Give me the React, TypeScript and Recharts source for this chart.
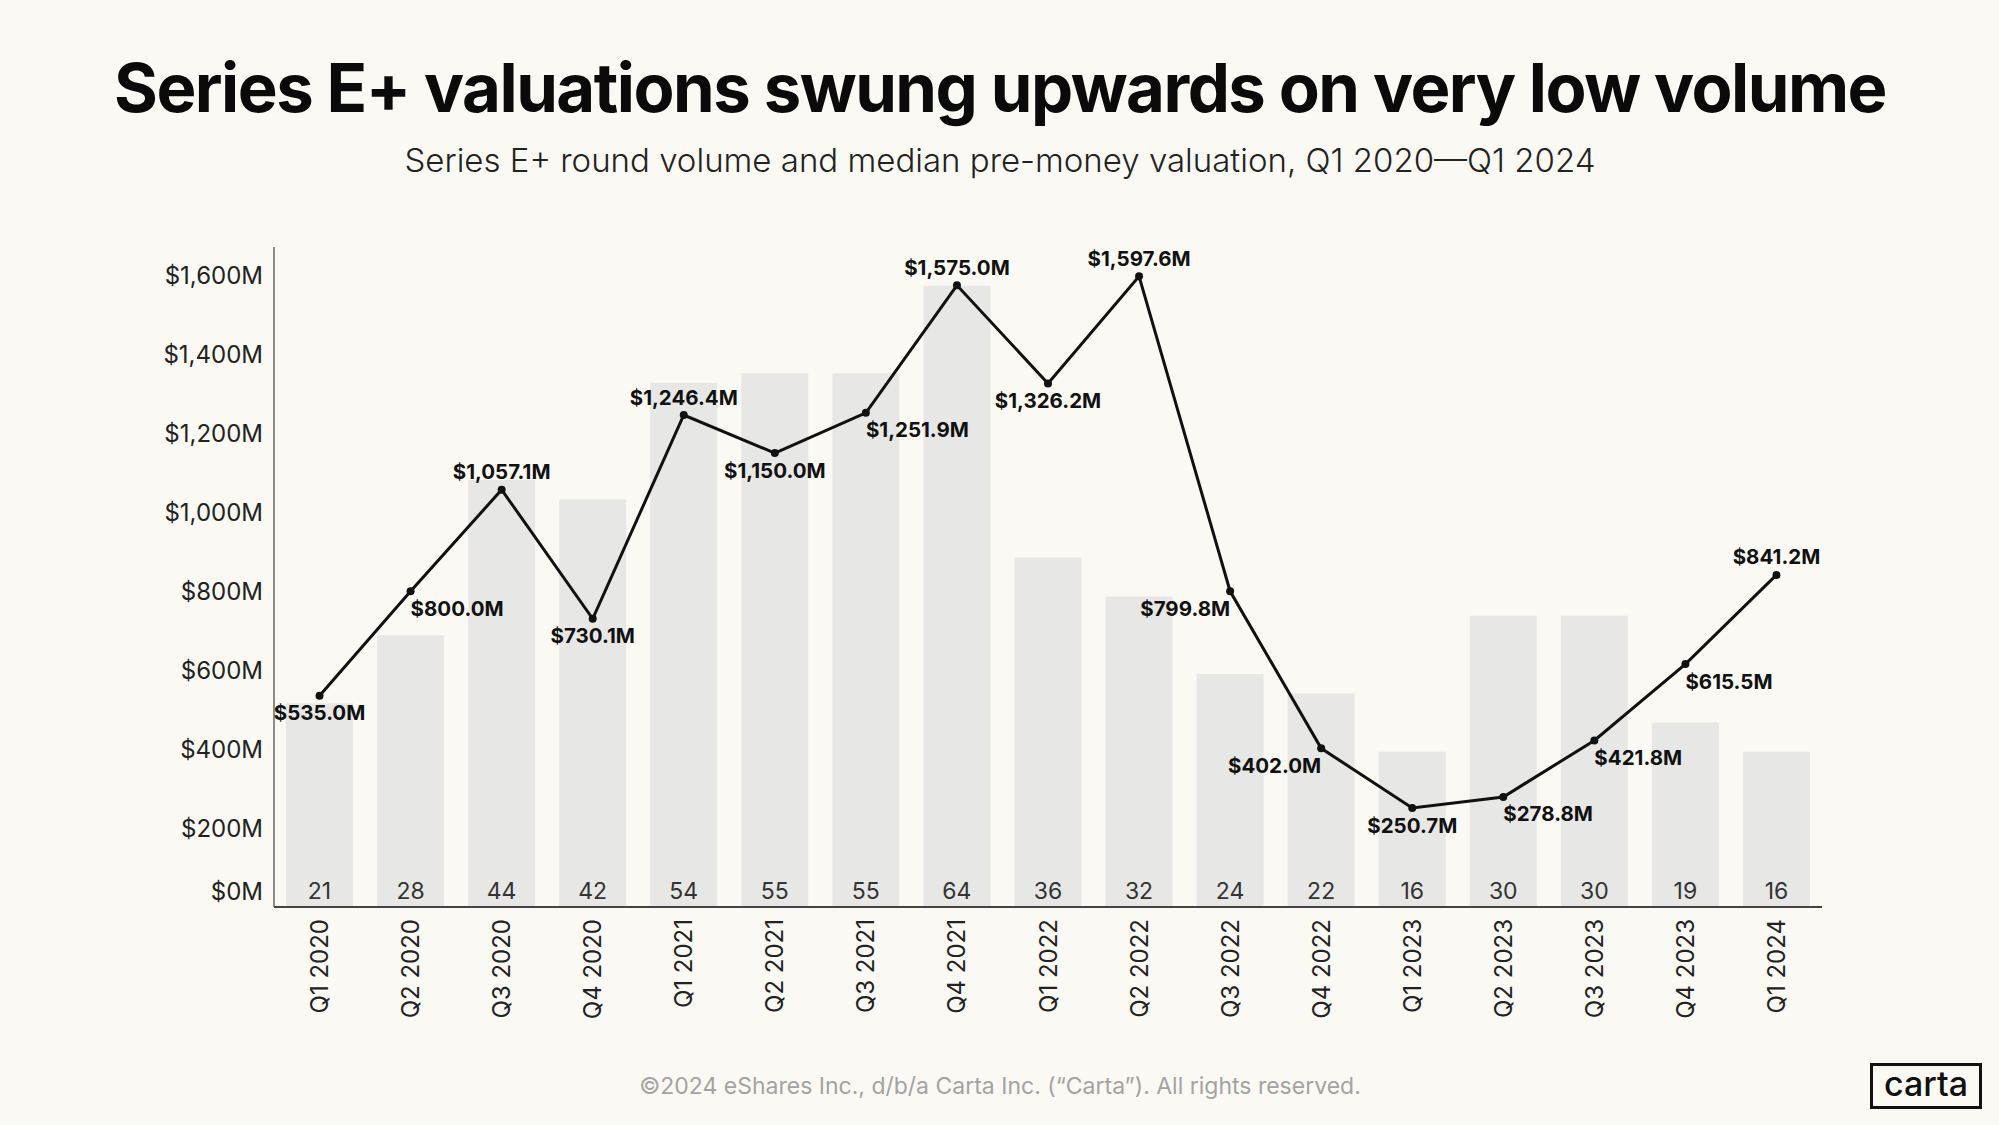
import { ComposedChart, Bar, Line, XAxis, YAxis, LabelList } from "recharts"

const quarters = [
  "Q1 2020", "Q2 2020", "Q3 2020", "Q4 2020",
  "Q1 2021", "Q2 2021", "Q3 2021", "Q4 2021",
  "Q1 2022", "Q2 2022", "Q3 2022", "Q4 2022",
  "Q1 2023", "Q2 2023", "Q3 2023", "Q4 2023",
  "Q1 2024",
]
const roundCounts = [21, 28, 44, 42, 54, 55, 55, 64, 36, 32, 24, 22, 16, 30, 30, 19, 16]
const valuations = [
  535.0, 800.0, 1057.1, 730.1, 1246.4, 1150.0, 1251.9, 1575.0, 1326.2,
  1597.6, 799.8, 402.0, 250.7, 278.8, 421.8, 615.5, 841.2,
]
const valuationTicks = [0, 200, 400, 600, 800, 1000, 1200, 1400, 1600]

const chartData = quarters.map((quarter, i) => ({
  quarter,
  count: roundCounts[i],
  valuation: valuations[i],
}))

const BG = "#fbf9f3"
const FONT = "Inter, 'Noto Sans', sans-serif"

document.body.style.margin = "0"
document.body.style.background = BG

const fmtMoney = (v: number) =>
  `$${v.toLocaleString("en-US", { minimumFractionDigits: 1, maximumFractionDigits: 1 })}M`

function YTick(props: any) {
  const { x, y, payload } = props
  // the $0M label sits up with the round counts, not on the axis line
  const shift = payload.value === 0 ? -16 : 0
  return (
    <text x={x} y={y + shift} textAnchor="end" dominantBaseline="central"
      fontFamily={FONT} fontSize={24} fill="#222">
      {`$${payload.value.toLocaleString("en-US")}M`}
    </text>
  )
}

function XTick(props: any) {
  const { x, y, payload } = props
  const ty = y + 4
  return (
    <text x={x} y={ty} transform={`rotate(-90 ${x} ${ty})`} textAnchor="end"
      dominantBaseline="central" fontFamily={FONT} fontSize={24} fill="#222">
      {payload.value}
    </text>
  )
}

function CountLabel(props: any) {
  const { x, y, width, height, value } = props
  return (
    <text x={x + width / 2} y={y + height - 16} textAnchor="middle"
      dominantBaseline="central" fontFamily={FONT} fontSize={23} fill="#333">
      {value}
    </text>
  )
}

function ValuationLabel(props: any) {
  const { x, y, value, index } = props
  const prev = index > 0 ? valuations[index - 1] : Infinity
  const next = index < valuations.length - 1 ? valuations[index + 1] : -Infinity
  let anchor = "middle"
  let dy = 17
  if (value > prev && value > next) dy = -18
  else if (value < prev && value < next) anchor = "middle"
  else if (value > prev) anchor = "start"
  else anchor = "end"
  return (
    <text x={x} y={y + dy} textAnchor={anchor} dominantBaseline="central"
      fontFamily={FONT} fontSize={20.5} fontWeight={700} fill="#111">
      {fmtMoney(value)}
    </text>
  )
}

export default function App() {
  return (
    <div style={{ position: "relative", width: 1999, height: 1125, background: BG, overflow: "hidden" }}>
      <svg width={1999} height={1125} style={{ position: "absolute", left: 0, top: 0 }}>
        <text x={1000} y={112} textAnchor="middle" fontFamily={FONT} fontSize={67}
          fontWeight={700} letterSpacing={-1.5} fill="#0a0a0a">
          Series E+ valuations swung upwards on very low volume
        </text>
        <text x={1000} y={172} textAnchor="middle" fontFamily={FONT} fontSize={33}
          fontWeight={300} fill="#222">
          Series E+ round volume and median pre-money valuation, Q1 2020—Q1 2024
        </text>
        <text x={1000} y={1094} textAnchor="middle" fontFamily={FONT} fontSize={23}
          fill="#a3a3a3">
          ©2024 eShares Inc., d/b/a Carta Inc. (“Carta”). All rights reserved.
        </text>
        <rect x={1871.5} y={1064.5} width={109} height={43} fill="none" stroke="#111" strokeWidth={3} />
        <text x={1926} y={1096} textAnchor="middle" fontFamily={FONT} fontSize={34}
          fontWeight={500} fill="#111">
          carta
        </text>
      </svg>
      <div style={{ position: "absolute", left: 0, top: 0 }}>
        <ComposedChart width={1999} height={1125} data={chartData}
          margin={{ top: 247, right: 177, bottom: 88, left: 134 }}>
          <XAxis dataKey="quarter" interval={0} height={130} tickLine={false}
            axisLine={{ stroke: "#444", strokeWidth: 2 }} tick={<XTick />} />
          <YAxis yAxisId="val" domain={[0, 1672]} ticks={valuationTicks} width={140}
            tickLine={false} tickSize={0} tickMargin={11}
            axisLine={{ stroke: "#666", strokeWidth: 1.5 }} tick={<YTick />} />
          <YAxis yAxisId="count" orientation="right" domain={[0, 68]} hide />
          <Bar yAxisId="count" dataKey="count" fill="#e7e7e6" barSize={67} isAnimationActive={false}>
            <LabelList dataKey="count" content={<CountLabel />} />
          </Bar>
          <Line yAxisId="val" type="linear" dataKey="valuation" stroke="#111" strokeWidth={3}
            dot={{ r: 4, fill: "#111", stroke: "#111", strokeWidth: 0 }} activeDot={false}
            isAnimationActive={false}>
            <LabelList dataKey="valuation" content={<ValuationLabel />} />
          </Line>
        </ComposedChart>
      </div>
    </div>
  )
}
